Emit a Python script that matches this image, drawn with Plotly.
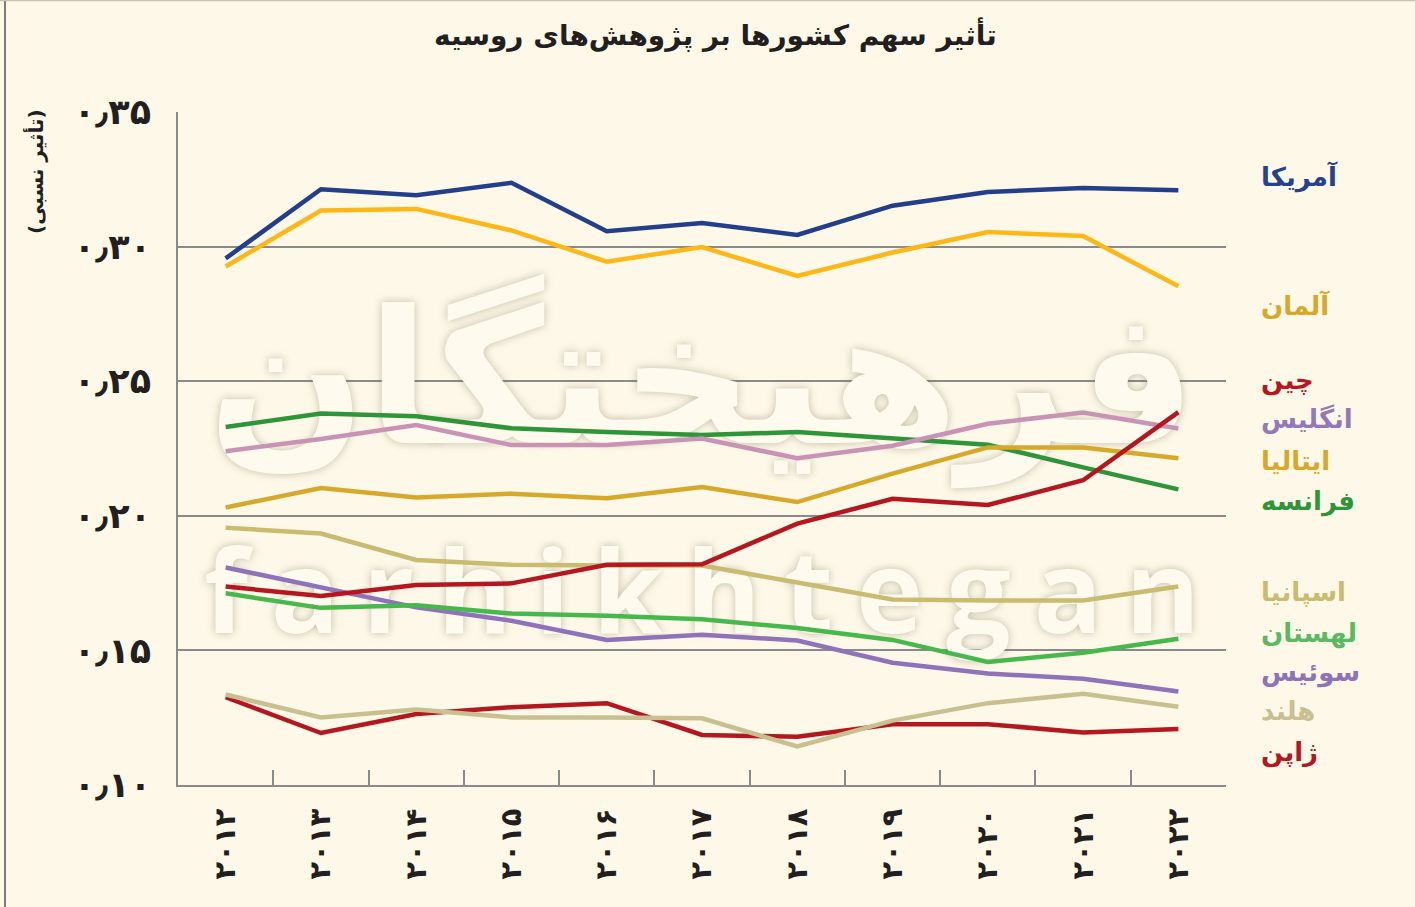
import plotly.graph_objects as go

# ---------------- data ----------------
years = ["۲۰۱۲", "۲۰۱۳", "۲۰۱۴", "۲۰۱۵", "۲۰۱۶", "۲۰۱۷",
         "۲۰۱۸", "۲۰۱۹", "۲۰۲۰", "۲۰۲۱", "۲۰۲۲"]

usa         = [0.2956, 0.3213, 0.3191, 0.3237, 0.3057, 0.3088, 0.3043, 0.3152, 0.3203, 0.3218, 0.3209]
germany     = [0.2926, 0.3134, 0.3140, 0.3060, 0.2944, 0.2998, 0.2891, 0.2978, 0.3054, 0.3039, 0.2853]
china       = [0.1737, 0.1702, 0.1743, 0.1749, 0.1818, 0.1820, 0.1971, 0.2063, 0.2040, 0.2132, 0.2385]
england     = [0.2240, 0.2285, 0.2337, 0.2263, 0.2263, 0.2287, 0.2214, 0.2260, 0.2342, 0.2384, 0.2324]
italy       = [0.2031, 0.2103, 0.2068, 0.2082, 0.2065, 0.2107, 0.2051, 0.2157, 0.2254, 0.2254, 0.2214]
france      = [0.2330, 0.2380, 0.2370, 0.2325, 0.2311, 0.2300, 0.2311, 0.2289, 0.2264, 0.2180, 0.2098]
spain       = [0.1956, 0.1934, 0.1836, 0.1818, 0.1815, 0.1815, 0.1752, 0.1689, 0.1685, 0.1685, 0.1737]
poland      = [0.1712, 0.1658, 0.1668, 0.1637, 0.1629, 0.1616, 0.1583, 0.1539, 0.1457, 0.1491, 0.1543]
switzerland = [0.1808, 0.1733, 0.1660, 0.1610, 0.1539, 0.1558, 0.1537, 0.1454, 0.1414, 0.1395, 0.1347]
netherlands = [0.1336, 0.1251, 0.1280, 0.1251, 0.1251, 0.1248, 0.1143, 0.1239, 0.1304, 0.1339, 0.1291]
japan       = [0.1326, 0.1193, 0.1264, 0.1289, 0.1304, 0.1186, 0.1179, 0.1226, 0.1226, 0.1195, 0.1208]

country_names = ["آمریکا", "آلمان", "چین", "انگلیس", "ایتالیا", "فرانسه",
                 "اسپانیا", "لهستان", "سوئیس", "هلند", "ژاپن"]

y_tick_values = [0.10, 0.15, 0.20, 0.25, 0.30, 0.35]
y_tick_labels = ["۰٫۱۰", "۰٫۱۵", "۰٫۲۰", "۰٫۲۵", "۰٫۳۰", "۰٫۳۵"]

title_text = "تأثیر سهم کشورها بر پژوهش‌های روسیه"
y_title_text = "(تأثیر نسبی)"
watermark_fa = "فرهیختگان"
watermark_en = "\u200a\u200a".join("farhikhtegan")

# ---------------- styles ----------------
series = [usa, germany, china, england, italy, france, spain, poland, switzerland, netherlands, japan]
line_colors = ["#233f8c", "#fdb719", "#b5161f", "#c993b5", "#d6a92a", "#2e9538",
               "#c9bb70", "#46b84c", "#8f73b8", "#c8c090", "#b3171f"]
label_colors = ["#23428f", "#d6a92a", "#b5161f", "#9379b9", "#d6a92a", "#2e9538",
                "#c9bb70", "#5db862", "#8f73b8", "#c8c090", "#b3171f"]
label_px_y = [177, 305, 380, 419, 461, 502, 592, 633, 672, 711, 752]
draw_order = [10, 9, 8, 7, 6, 5, 4, 3, 2, 1, 0]

W, H = 1415, 907
L, R, T, B = 178, 1226, 112, 785
BG = "#fdf8e8"
GRID = "#8a8a8a"
FONT = "DejaVu Sans"
WM_FILL = "#fefaee"
WM_SHADOW = "0px 0px 9px rgba(110,100,70,0.40)"


def px_x(px):
    return (px - L) / (R - L)


def px_y(py):
    return (B - py) / (B - T)


fig = go.Figure()

# watermark (drawn first, so it sits beneath the data lines)
fig.add_trace(go.Scatter(
    x=[years[5]], y=[0.2445], mode="text", text=[watermark_fa],
    textposition="middle center", hoverinfo="skip", showlegend=False,
    textfont=dict(family=FONT, size=186, weight="bold", color=WM_FILL, shadow=WM_SHADOW)))
fig.add_trace(go.Scatter(
    x=[years[5]], y=[0.1672], mode="text", text=[watermark_en],
    textposition="middle center", hoverinfo="skip", showlegend=False,
    textfont=dict(family="Open Sans", size=114, weight="bold", color=WM_FILL, shadow=WM_SHADOW)))

for i in draw_order:
    fig.add_trace(go.Scatter(
        x=years, y=series[i], mode="lines", name=country_names[i],
        line=dict(color=line_colors[i], width=4.5),
        hoverinfo="skip", showlegend=False))

annotations = []
# country labels
for name, col, py in zip(country_names, label_colors, label_px_y):
    annotations.append(dict(
        text=name, x=px_x(1259), y=px_y(py), xref="paper", yref="paper",
        showarrow=False, xanchor="left", yanchor="middle",
        font=dict(family=FONT, size=26, weight="bold", color=col)))

# y-axis title
annotations.append(dict(
    text=y_title_text, x=px_x(35), y=px_y(172), xref="paper", yref="paper",
    showarrow=False, xanchor="center", yanchor="middle", textangle=-90,
    font=dict(family=FONT, size=20, weight="bold", color="#231f20")))

# title
annotations.append(dict(
    text=title_text, x=px_x(715), y=px_y(35), xref="paper", yref="paper",
    showarrow=False, xanchor="center", yanchor="middle",
    font=dict(family=FONT, size=28, weight="bold", color="#231f20")))

shapes = [
    dict(type="line", xref="paper", yref="paper", x0=px_x(5), x1=px_x(5), y0=px_y(0), y1=px_y(H),
         line=dict(color="#7d7d7d", width=2)),
    dict(type="line", xref="paper", yref="paper", x0=px_x(0), x1=px_x(W), y0=px_y(0.5), y1=px_y(0.5),
         line=dict(color="#c8c2b0", width=1.5)),
]

fig.update_layout(
    width=W, height=H,
    margin=dict(l=L, r=W - R, t=T, b=H - B, pad=0),
    paper_bgcolor=BG, plot_bgcolor=BG,
    annotations=annotations, shapes=shapes,
    showlegend=False,
    xaxis=dict(
        type="category", categoryorder="array", categoryarray=years,
        range=[-0.5, 10.5], showgrid=False, zeroline=False,
        showline=True, linecolor=GRID, linewidth=2,
        ticks="inside", tickson="boundaries", ticklen=15, tickwidth=1.5, tickcolor=GRID,
        tickangle=-90, ticklabelstandoff=10,
        tickfont=dict(family=FONT, size=29, weight="bold", color="#231f20"),
        fixedrange=True),
    yaxis=dict(
        range=[0.10, 0.35], tickvals=y_tick_values, ticktext=y_tick_labels,
        showgrid=True, gridcolor=GRID, gridwidth=1.5, zeroline=False,
        showline=True, linecolor=GRID, linewidth=2, ticks="",
        ticklabelstandoff=18,
        tickfont=dict(family=FONT, size=35, weight="bold", color="#231f20"),
        fixedrange=True),
)

fig.write_html(
    "out.html",
    config={"displayModeBar": False},
    post_script="document.body.style.margin='0px';document.body.style.background='" + BG + "';",
)
